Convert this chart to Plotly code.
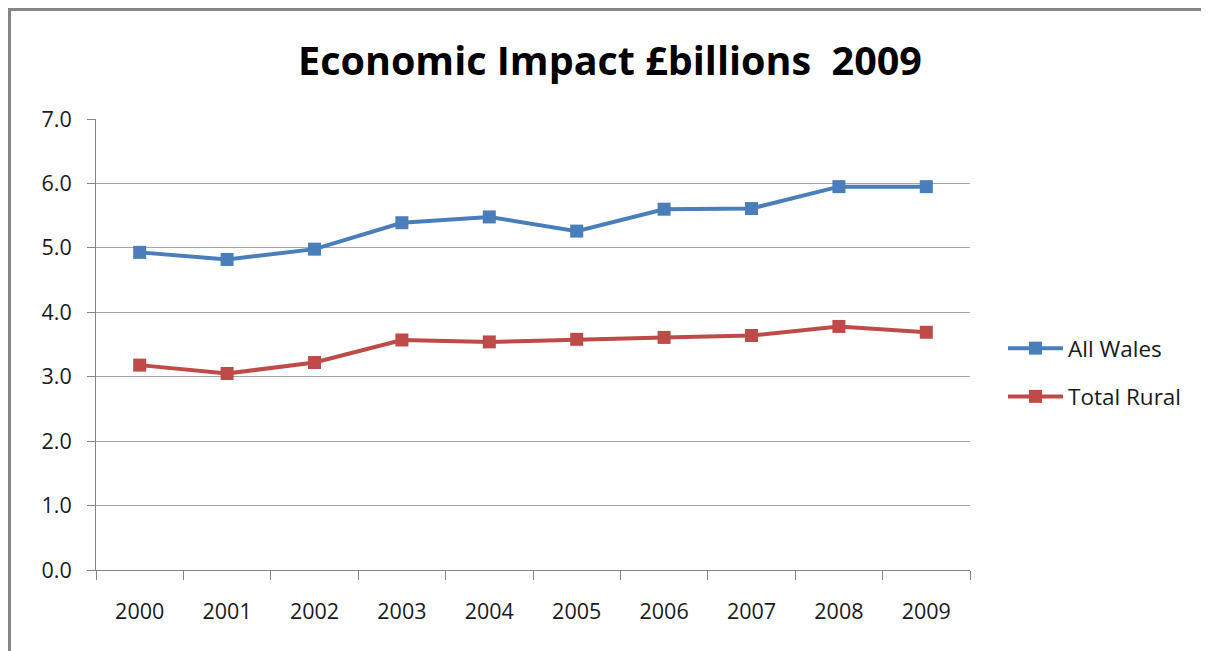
import plotly.graph_objects as go

years = ["2000", "2001", "2002", "2003", "2004", "2005", "2006", "2007", "2008", "2009"]
all_wales = [4.93, 4.82, 4.98, 5.39, 5.48, 5.26, 5.60, 5.61, 5.95, 5.95]
total_rural = [3.18, 3.05, 3.22, 3.57, 3.54, 3.58, 3.61, 3.64, 3.78, 3.69]
y_ticks = [0, 1, 2, 3, 4, 5, 6, 7]
y_tick_text = ["0.0", "1.0", "2.0", "3.0", "4.0", "5.0", "6.0", "7.0"]

FONT = "Open Sans"
fig = go.Figure()
fig.add_trace(go.Scatter(
    x=years, y=all_wales, name="All Wales", mode="lines+markers",
    line=dict(color="#4A7EBB", width=4),
    marker=dict(symbol="square", size=13, color="#4A7EBB"),
    legendgroup="a",
))
fig.add_trace(go.Scatter(
    x=years, y=total_rural, name="Total Rural", mode="lines+markers",
    line=dict(color="#BE4B48", width=4),
    marker=dict(symbol="square", size=13, color="#BE4B48"),
    legendgroup="b",
))

# page offset (browser body margin)
OFF = 8
W, H = 1209, 651
L, R, T, B = 96 - OFF, 970 - OFF, 119 - OFF, 570 - OFF

def px(x):
    return (x - OFF - L) / (R - L)

def py(y):
    return (B - (y - OFF)) / (B - T)

fig.update_layout(
    width=W, height=H, autosize=False,
    margin=dict(l=L, r=W - R, t=T, b=H - B),
    paper_bgcolor="white", plot_bgcolor="white",
    font=dict(family=FONT, color="#000000", size=21),
    title=dict(text="<b>Economic Impact £billions  2009</b>", x=(610 - OFF) / W, xanchor="center",
               y=1 - (61 - OFF) / H, yanchor="middle", yref="container",
               font=dict(family=FONT, size=39.5, color="#000000")),
    xaxis=dict(type="category", range=[-0.5, 9.5], tickson="boundaries", ticks="outside",
               ticklen=9, tickcolor="#868686", showline=True, linecolor="#868686", linewidth=1,
               showgrid=False, tickfont=dict(size=21.5, family=FONT, color="#1a1a1a"),
               ticklabelstandoff=22),
    yaxis=dict(range=[0, 7], tickvals=y_ticks, ticktext=y_tick_text, ticks="outside",
               ticklen=8, tickcolor="#868686", showline=True, linecolor="#868686",
               linewidth=1, showgrid=True, gridcolor="#a6a6a6", gridwidth=1,
               tickfont=dict(size=21.5, family=FONT, color="#1a1a1a"),
               ticklabelstandoff=11, zeroline=False),
    legend=dict(x=px(1003), xanchor="left", y=py(372.5), yanchor="middle",
                font=dict(size=22.5, family=FONT, color="#1a1a1a"), tracegroupgap=16,
                itemwidth=55, bgcolor="rgba(0,0,0,0)"),
    showlegend=True,
)

fig.add_shape(type="path", xref="paper", yref="paper",
              path=f"M {px(9.5)} {py(680)} L {px(9.5)} {py(9.5)} L {px(1230)} {py(9.5)}",
              line=dict(color="#868686", width=3))

fig.write_html("out.html")
